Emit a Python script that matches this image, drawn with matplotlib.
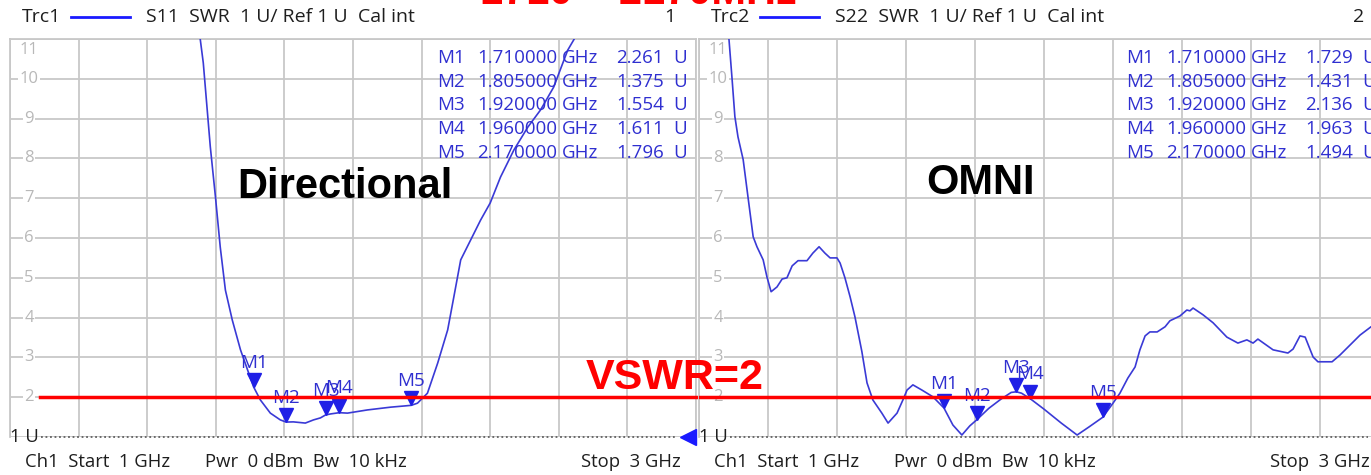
import matplotlib
matplotlib.use('Agg')
import matplotlib.pyplot as plt
import matplotlib.font_manager as fm
import matplotlib.transforms as mtransforms

W, H = 1371, 475

# S11 trace (directional antenna), VSWR over frequency in GHz
s11_freq = [1.55, 1.555, 1.5635, 1.584, 1.599, 1.613, 1.628, 1.648, 1.672, 1.71, 1.73, 1.759,
            1.788, 1.805, 1.826, 1.861, 1.885, 1.905, 1.92, 1.935, 1.96, 1.984, 2.042, 2.11,
            2.15, 2.17, 2.188, 2.217, 2.247, 2.276, 2.294, 2.314, 2.343, 2.372, 2.40, 2.43,
            2.469, 2.51, 2.547, 2.585, 2.626, 2.645, 2.655]
s11_swr = [11.3, 10.97, 10.4, 8.29, 7.03, 5.77, 4.69, 3.94, 3.19, 2.261, 1.93, 1.60,
           1.43, 1.375, 1.38, 1.35, 1.43, 1.48, 1.554, 1.58, 1.611, 1.60, 1.68, 1.75,
           1.78, 1.796, 1.85, 2.1, 2.86, 3.69, 4.52, 5.45, 5.95, 6.45, 6.88, 7.53,
           8.21, 8.79, 9.22, 9.79, 10.72, 11.0, 11.3]

# S22 trace (omni antenna)
s22_freq = [1.082, 1.087, 1.096, 1.104, 1.113, 1.128, 1.142, 1.157, 1.168, 1.186, 1.197, 1.209,
            1.226, 1.241, 1.255, 1.27, 1.287, 1.313, 1.33, 1.348, 1.365, 1.38, 1.40, 1.409,
            1.423, 1.438, 1.452, 1.472, 1.487, 1.504, 1.53, 1.548, 1.574, 1.591, 1.603, 1.62,
            1.646, 1.678, 1.71, 1.736, 1.762, 1.785, 1.805, 1.84, 1.875, 1.905, 1.92, 1.935,
            1.96, 2.0, 2.05, 2.096, 2.13, 2.17, 2.2, 2.22, 2.243, 2.264, 2.278, 2.293,
            2.307, 2.328, 2.351, 2.365, 2.394, 2.414, 2.423, 2.432, 2.461, 2.49, 2.53, 2.562,
            2.588, 2.606, 2.62, 2.664, 2.707, 2.722, 2.742, 2.757, 2.78, 2.794, 2.835, 2.858,
            2.887, 2.916, 2.948, 3.0]
s22_swr = [11.3, 10.98, 9.98, 9.05, 8.54, 7.97, 7.03, 6.03, 5.78, 5.45, 5.02, 4.65,
           4.77, 4.97, 5.0, 5.3, 5.43, 5.43, 5.62, 5.78, 5.62, 5.5, 5.5, 5.37,
           5.0, 4.52, 4.02, 3.15, 2.36, 1.93, 1.6, 1.35, 1.6, 1.93, 2.18, 2.31,
           2.18, 2.01, 1.729, 1.3, 1.05, 1.28, 1.431, 1.72, 1.95, 2.12, 2.136, 2.10,
           1.963, 1.70, 1.35, 1.05, 1.25, 1.494, 1.85, 2.1, 2.48, 2.76, 3.19, 3.54,
           3.64, 3.64, 3.77, 3.92, 4.04, 4.19, 4.17, 4.24, 4.07, 3.87, 3.51, 3.36,
           3.44, 3.36, 3.46, 3.19, 3.11, 3.21, 3.54, 3.51, 3.01, 2.89, 2.89, 3.06,
           3.31, 3.56, 3.77, 3.95]

marker_names = ['M1', 'M2', 'M3', 'M4', 'M5']
marker_freq = [1.71, 1.805, 1.92, 1.96, 2.17]
s11_marker_swr = [2.261, 1.375, 1.554, 1.611, 1.796]
s22_marker_swr = [1.729, 1.431, 2.136, 1.963, 1.494]

swr_ticks = [2, 3, 4, 5, 6, 7, 8, 9, 10]
vswr_limit = 2

names = {f.name for f in fm.fontManager.ttflist}
narrow = 'Liberation Sans Narrow' if 'Liberation Sans Narrow' in names else 'Open Sans'
plt.rcParams['font.family'] = ['Open Sans', 'DejaVu Sans']

TRACE = '#3a3ad6'
LABEL = '#2f2fd0'
GRID = '#c8c8c8'
DARK = '#1e1e1e'

fig = plt.figure(figsize=(W / 100, H / 100), dpi=100)
fig.patch.set_facecolor('white')


def px_text(x, y, s, **kw):
    fig.text(x / W, 1 - y / H, s, **kw)


panels = [
    dict(left=10, width=686, freq=s11_freq, swr=s11_swr, mk=s11_marker_swr,
         trc='Trc1', desc='S11  SWR  1 U/ Ref 1 U  Cal int', num='1', name='Directional',
         name_x=345, name_y=187),
    dict(left=699, width=690, freq=s22_freq, swr=s22_swr, mk=s22_marker_swr,
         trc='Trc2', desc='S22  SWR  1 U/ Ref 1 U  Cal int', num='2', name='OMNI',
         name_x=980, name_y=183),
]

axes = []
for p in panels:
    ax = fig.add_axes([p['left'] / W, 38 / H, p['width'] / W, 398 / H])
    axes.append(ax)
    ax.set_xlim(1, 3)
    ax.set_ylim(1, 11)
    ax.set_xticks([1 + 0.2 * i for i in range(11)])
    ax.set_yticks(range(1, 12))
    ax.grid(True, color=GRID, lw=1.3)
    ax.tick_params(length=0, labelleft=False, labelbottom=False)
    for side in ['top', 'left', 'right']:
        ax.spines[side].set_color(GRID)
        ax.spines[side].set_linewidth(1.3)
    ax.spines['bottom'].set_visible(False)
    ax.set_axisbelow(True)

    # y labels inside the grid
    trans = mtransforms.blended_transform_factory(ax.transAxes, ax.transData)
    for v in swr_ticks:
        ax.text(19 / p['width'], v, str(v), transform=trans, ha='center', va='center',
                fontsize=12, color='#b8b8b8',
                bbox=dict(boxstyle='square,pad=0.1', fc='white', ec='none'))
    ax.text(19 / p['width'], 10.72, '11', transform=trans, ha='center', va='center',
            fontsize=12, color='#b8b8b8')

    # reference line at 1 U
    ax.plot([1.09, 2.94], [1, 1], ls=(0, (1, 1.5)), color='#606060', lw=1.3,
            clip_on=False, zorder=2)
    ax.plot([2.977], [1], marker='<', ms=11, color='#1a1aff', clip_on=False, zorder=5)
    ax.text(0, 1, '1 U', transform=trans, ha='left', va='center', fontsize=13.3,
            family=narrow, color=DARK, clip_on=False)

    ax.plot(p['freq'], p['swr'], color=TRACE, lw=1.2, zorder=3)

    # markers
    tri = mtransforms.offset_copy(ax.transData, fig=fig, x=0, y=5, units='points')
    ax.plot(marker_freq, p['mk'], ls='none', marker='v', ms=10, color='#1f1fe6',
            transform=tri, zorder=4)
    for nm, f, v in zip(marker_names, marker_freq, p['mk']):
        ax.annotate(nm, (f, v), xytext=(0, 11), textcoords='offset points', ha='center',
                    va='bottom', fontsize=13.5, color=LABEL, zorder=4)

    # marker table
    L = p['left']
    for i, (nm, f, v) in enumerate(zip(marker_names, marker_freq, p['mk'])):
        y = 58 + i * 23.7
        px_text(L + 427, y, nm, ha='left', va='center', fontsize=13.5, color=LABEL)
        px_text(L + 547, y, '%.6f' % f, ha='right', va='center', fontsize=13.5, color=LABEL)
        px_text(L + 552, y, 'GHz', ha='left', va='center', fontsize=13.5, color=LABEL)
        px_text(L + 654, y, '%.3f' % v, ha='right', va='center', fontsize=13.5, color=LABEL)
        px_text(L + 663, y, 'U', ha='left', va='center', fontsize=13.5, color=LABEL)

    # header row
    px_text(L + 12, 17, p['trc'], ha='left', va='center', fontsize=14, family=narrow,
            color=DARK)
    fig.add_artist(plt.Line2D([(L + 61) / W, (L + 120) / W], [1 - 17 / H] * 2,
                              color='#1a1aff', lw=2))
    px_text(L + 136, 17, p['desc'], ha='left', va='center', fontsize=14, family=narrow,
            color=DARK)
    px_text(L + 665, 17, p['num'], ha='right', va='center', fontsize=14, family=narrow,
            color=DARK)

    # footer row
    px_text(L + 15, 462, 'Ch1  Start  1 GHz', ha='left', va='center', fontsize=13.3,
            family=narrow, color=DARK)
    px_text(L + 195, 462, 'Pwr  0 dBm  Bw  10 kHz', ha='left', va='center', fontsize=13.3,
            family=narrow, color=DARK)
    px_text(L + 671, 462, 'Stop  3 GHz', ha='right', va='center', fontsize=13.3,
            family=narrow, color=DARK)

    px_text(p['name_x'], p['name_y'], p['name'], ha='center', va='center', fontsize=30,
            fontweight='bold', family='Liberation Sans', color='black')

# VSWR = 2 limit line across both panels
axes[0].axhline(vswr_limit, xmin=30 / 686, xmax=1.01, color='#ff0000', lw=2.5,
                clip_on=False, zorder=6)
axes[1].axhline(vswr_limit, color='#ff0000', lw=2.5, zorder=6)
px_text(675, 378, 'VSWR=2', ha='center', va='center', fontsize=31, fontweight='bold',
        family='Liberation Sans', color='#ff0000')

# band title, cut off at the top edge of the image
px_text(638, 4.5, '1710 – 2170MHz', ha='center', va='baseline', fontsize=30,
        fontweight='bold', family='Liberation Sans', color='#ff0000')

fig.savefig('out.png', dpi=100, facecolor='white')
